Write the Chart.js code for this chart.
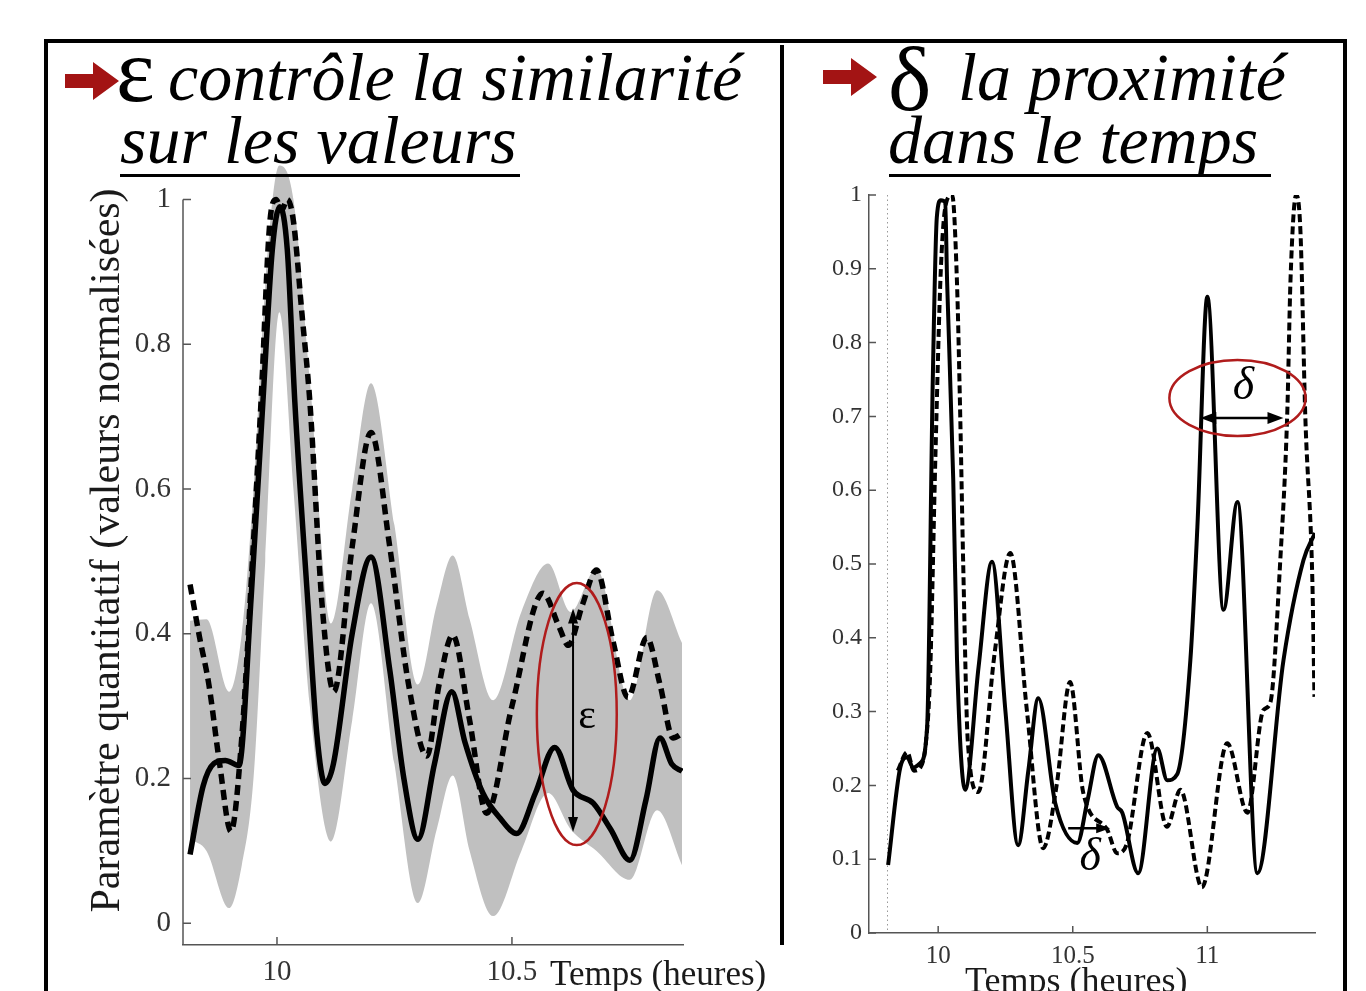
<!DOCTYPE html>
<html lang="fr">
<head>
<meta charset="utf-8">
<title>Similarité et proximité</title>
<script src="https://cdn.jsdelivr.net/npm/chart.js@4.4.1/dist/chart.umd.min.js"></script>
<style>
  html, body { margin: 0; padding: 0; background: #fff; overflow: hidden; }
  body { width: 1366px; height: 991px; position: relative; font-family: 'Liberation Serif', 'Times New Roman', serif; }
  canvas { position: absolute; top: 0; }
  #left { left: 0; }
  #right { left: 790px; }
  .frame { position: absolute; left: 44px; top: 39px; width: 1295px; height: 1000px; border: 4px solid #000; }
  .divider { position: absolute; left: 780px; top: 45px; width: 4px; height: 900px; background: #000; }
  .t { position: absolute; white-space: nowrap; color: #000; }
  .it { font-style: italic; font-size: 68px; line-height: 68px; }
  .greek { font-size: 92px; line-height: 92px; }
  .rule { position: absolute; height: 3px; background: #000; }
  .axis-title { position: absolute; white-space: nowrap; color: #1a1a1a; font-size: 35px; line-height: 35px; }
  svg { position: absolute; }
</style>
</head>
<body>
<div class="frame"></div>
<div class="divider"></div>

<canvas id="left" width="720" height="991"></canvas>
<canvas id="right" width="550" height="991"></canvas>

<!-- headings -->
<svg style="left:62px;top:59px" width="60" height="44"><polygon points="3,15 31,15 31,3 57,22 31,41 31,29 3,29" fill="#a31414"/></svg>
<div class="t greek" style="left:116px;top:24px">ε</div>
<div class="t it" style="left:168px;top:43px">contrôle la similarité</div>
<div class="t it" style="left:120px;top:106px">sur les valeurs</div>
<div class="rule" style="left:120px;top:174px;width:400px"></div>

<svg style="left:820px;top:55px" width="60" height="44"><polygon points="3,15 31,15 31,3 57,22 31,41 31,29 3,29" fill="#a31414"/></svg>
<div class="t greek" style="left:888px;top:33px">δ</div>
<div class="t it" style="left:958px;top:43px">la proximité</div>
<div class="t it" style="left:888px;top:106px">dans le temps</div>
<div class="rule" style="left:889px;top:174px;width:382px"></div>

<div class="axis-title" style="left:550px;top:956px">Temps (heures)</div>
<div class="axis-title" style="left:965px;top:962px;font-size:36px;line-height:36px">Temps (heures)</div>

<script>
// left panel: ε, similarity on values
const leftSolidX = [9.815, 9.843, 9.866, 9.89, 9.919, 9.945, 9.97, 9.99, 10.006, 10.022, 10.038, 10.066, 10.085, 10.102, 10.12, 10.16, 10.2, 10.24, 10.27, 10.3, 10.335, 10.372, 10.4, 10.438, 10.475, 10.51, 10.55, 10.591, 10.63, 10.673, 10.71, 10.751, 10.785, 10.815, 10.84, 10.862];
const leftSolidY = [0.095, 0.19, 0.221, 0.225, 0.218, 0.45, 0.72, 0.93, 0.99, 0.93, 0.72, 0.44, 0.26, 0.193, 0.22, 0.4, 0.506, 0.35, 0.2, 0.116, 0.22, 0.32, 0.25, 0.18, 0.145, 0.124, 0.18, 0.243, 0.184, 0.166, 0.13, 0.087, 0.17, 0.256, 0.22, 0.21];

const leftDashX = [9.815, 9.835, 9.855, 9.878, 9.902, 9.925, 9.945, 9.966, 9.985, 9.998, 10.01, 10.022, 10.035, 10.053, 10.07, 10.096, 10.121, 10.16, 10.2, 10.24, 10.28, 10.319, 10.345, 10.374, 10.41, 10.446, 10.5, 10.566, 10.6, 10.62, 10.65, 10.68, 10.715, 10.747, 10.787, 10.815, 10.843, 10.862];
const leftDashY = [0.468, 0.396, 0.33, 0.22, 0.127, 0.256, 0.47, 0.72, 0.97, 1.0, 0.985, 1.0, 0.97, 0.843, 0.72, 0.44, 0.32, 0.52, 0.678, 0.52, 0.33, 0.231, 0.33, 0.398, 0.28, 0.152, 0.3, 0.456, 0.41, 0.384, 0.44, 0.488, 0.39, 0.312, 0.395, 0.33, 0.256, 0.262];

const bandX     = [9.815, 9.85, 9.898, 9.925, 9.95, 9.975, 10.005, 10.035, 10.07, 10.115, 10.16, 10.2, 10.25, 10.3, 10.34, 10.374, 10.41, 10.46, 10.52, 10.577, 10.625, 10.68, 10.751, 10.809, 10.862];
const bandUpper = [0.418, 0.42, 0.32, 0.4, 0.6, 0.88, 1.047, 1.0, 0.75, 0.414, 0.6, 0.746, 0.55, 0.33, 0.44, 0.508, 0.42, 0.308, 0.43, 0.497, 0.43, 0.49, 0.308, 0.46, 0.387];
const bandLower = [0.116, 0.10, 0.021, 0.08, 0.2, 0.5, 0.844, 0.6, 0.3, 0.113, 0.28, 0.442, 0.22, 0.028, 0.13, 0.204, 0.1, 0.01, 0.1, 0.18, 0.13, 0.1, 0.06, 0.156, 0.08];

const leftXTicks = [10, 10.5];
const leftYTicks = [0, 0.2, 0.4, 0.6, 0.8, 1];

// right panel: δ, proximity in time
const rightSolidX = [9.814, 9.859, 9.885, 9.907, 9.933, 9.959, 9.98, 9.995, 10.01, 10.026, 10.033, 10.056, 10.07, 10.1, 10.15, 10.2, 10.25, 10.297, 10.335, 10.372, 10.435, 10.517, 10.555, 10.595, 10.665, 10.684, 10.743, 10.814, 10.851, 10.888, 10.937, 10.963, 11.0, 11.06, 11.112, 11.186, 11.283, 11.357, 11.4];
const rightSolidY = [0.092, 0.224, 0.238, 0.224, 0.23, 0.28, 0.75, 0.97, 0.993, 0.99, 0.885, 0.614, 0.37, 0.194, 0.36, 0.503, 0.3, 0.119, 0.22, 0.318, 0.176, 0.122, 0.18, 0.241, 0.171, 0.163, 0.081, 0.25, 0.207, 0.215, 0.37, 0.55, 0.862, 0.438, 0.584, 0.081, 0.37, 0.505, 0.542];

const rightDashX = [9.85, 9.885, 9.91, 9.935, 9.955, 9.97, 9.99, 10.01, 10.03, 10.052, 10.07, 10.082, 10.093, 10.11, 10.149, 10.21, 10.268, 10.33, 10.39, 10.44, 10.49, 10.539, 10.628, 10.665, 10.7, 10.777, 10.85, 10.9, 10.98, 11.074, 11.149, 11.208, 11.234, 11.271, 11.297, 11.309, 11.33, 11.346, 11.364, 11.39, 11.398];
const rightDashY = [0.22, 0.245, 0.22, 0.225, 0.26, 0.35, 0.65, 0.9, 0.99, 1.0, 0.88, 0.7, 0.5, 0.26, 0.191, 0.38, 0.515, 0.3, 0.115, 0.2, 0.34, 0.19, 0.14, 0.108, 0.12, 0.271, 0.144, 0.194, 0.062, 0.257, 0.163, 0.302, 0.312, 0.505, 0.705, 0.885, 1.0, 0.95, 0.7, 0.48, 0.32];

const rightXTicks = [10, 10.5, 11];
const rightYTicks = [0, 0.1, 0.2, 0.3, 0.4, 0.5, 0.6, 0.7, 0.8, 0.9, 1];

const serif = 'Liberation Serif';
const pts = (xs, ys) => xs.map((x, i) => ({ x: x, y: ys[i] }));

// MATLAB style ticks pointing into the plot, plus an optional y axis line that stops at a given value
const inwardTicks = {
  id: 'inwardTicks',
  afterDatasetsDraw(chart, args, opts) {
    const { ctx, chartArea, scales: { x, y } } = chart;
    ctx.save();
    ctx.strokeStyle = '#555';
    ctx.lineWidth = 1.5;
    ctx.beginPath();
    x.ticks.forEach(t => {
      const px = x.getPixelForValue(t.value);
      ctx.moveTo(px, chartArea.bottom);
      ctx.lineTo(px, chartArea.bottom - opts.len);
    });
    y.ticks.forEach(t => {
      const py = y.getPixelForValue(t.value);
      ctx.moveTo(chartArea.left, py);
      ctx.lineTo(chartArea.left + opts.len, py);
    });
    if (opts.axisTop !== undefined) {
      ctx.moveTo(chartArea.left, y.getPixelForValue(opts.axisTop));
      ctx.lineTo(chartArea.left, chartArea.bottom);
    }
    ctx.stroke();
    ctx.restore();
  }
};

function arrowHead(ctx, x, y, dx, dy, len, half) {
  ctx.beginPath();
  ctx.moveTo(x, y);
  ctx.lineTo(x - dx * len - dy * half, y - dy * len + dx * half);
  ctx.lineTo(x - dx * len + dy * half, y - dy * len - dx * half);
  ctx.closePath();
  ctx.fill();
}

function oval(ctx, x, y, o) {
  const cx = x.getPixelForValue(o.x), cy = y.getPixelForValue(o.y);
  const rx = x.getPixelForValue(o.x + o.rx) - cx;
  const ry = cy - y.getPixelForValue(o.y + o.ry);
  ctx.save();
  ctx.strokeStyle = '#b01c1c';
  ctx.lineWidth = 2.5;
  ctx.beginPath();
  ctx.ellipse(cx, cy, rx, ry, 0, 0, Math.PI * 2);
  ctx.stroke();
  ctx.restore();
}

const epsOval = { x: 10.638, y: 0.289, rx: 0.085, ry: 0.181 };
const epsArrow = { x: 10.63, top: 0.435, bottom: 0.126 };
const epsLabel = { x: 10.66, y: 0.285 };

const epsNotes = {
  id: 'epsNotes',
  afterDatasetsDraw(chart) {
    const { ctx, scales: { x, y } } = chart;
    oval(ctx, x, y, epsOval);
    const px = x.getPixelForValue(epsArrow.x);
    const top = y.getPixelForValue(epsArrow.top), bot = y.getPixelForValue(epsArrow.bottom);
    ctx.save();
    ctx.strokeStyle = '#000';
    ctx.fillStyle = '#000';
    ctx.lineWidth = 2;
    ctx.beginPath();
    ctx.moveTo(px, top + 6);
    ctx.lineTo(px, bot - 6);
    ctx.stroke();
    arrowHead(ctx, px, top, 0, -1, 15, 5);
    arrowHead(ctx, px, bot, 0, 1, 15, 5);
    ctx.font = '42px ' + serif;
    ctx.textAlign = 'center';
    ctx.textBaseline = 'middle';
    ctx.fillText('ε', x.getPixelForValue(epsLabel.x), y.getPixelForValue(epsLabel.y));
    ctx.restore();
  }
};

const deltaOval = { x: 11.112, y: 0.725, rx: 0.253, ry: 0.0515 };
const deltaArrow = { y: 0.698, from: 10.974, to: 11.283 };
const deltaLabel = { x: 11.134, y: 0.74 };
const smallArrow = { y: 0.142, from: 10.483, to: 10.639 };
const smallLabel = { x: 10.565, y: 0.102 };

const deltaNotes = {
  id: 'deltaNotes',
  afterDatasetsDraw(chart) {
    const { ctx, scales: { x, y } } = chart;
    oval(ctx, x, y, deltaOval);
    ctx.save();
    ctx.strokeStyle = '#000';
    ctx.fillStyle = '#000';
    ctx.lineWidth = 2.5;
    let py = y.getPixelForValue(deltaArrow.y);
    let a = x.getPixelForValue(deltaArrow.from), b = x.getPixelForValue(deltaArrow.to);
    ctx.beginPath();
    ctx.moveTo(a + 8, py);
    ctx.lineTo(b - 8, py);
    ctx.stroke();
    arrowHead(ctx, a, py, -1, 0, 16, 6);
    arrowHead(ctx, b, py, 1, 0, 16, 6);

    py = y.getPixelForValue(smallArrow.y);
    a = x.getPixelForValue(smallArrow.from);
    b = x.getPixelForValue(smallArrow.to);
    ctx.beginPath();
    ctx.moveTo(a, py);
    ctx.lineTo(b - 8, py);
    ctx.stroke();
    arrowHead(ctx, b, py, 1, 0, 14, 5);

    ctx.font = 'italic 46px ' + serif;
    ctx.textAlign = 'center';
    ctx.textBaseline = 'middle';
    ctx.fillText('δ', x.getPixelForValue(deltaLabel.x), y.getPixelForValue(deltaLabel.y));
    ctx.fillText('δ', x.getPixelForValue(smallLabel.x), y.getPixelForValue(smallLabel.y));
    ctx.restore();
  }
};

// faint dotted marker at the start of the series
const startLine = {
  id: 'startLine',
  beforeDatasetsDraw(chart, args, opts) {
    const { ctx, scales: { x, y } } = chart;
    const px = Math.round(x.getPixelForValue(opts.at)) + 0.5;
    ctx.save();
    ctx.strokeStyle = '#999';
    ctx.lineWidth = 1;
    ctx.setLineDash([1.5, 3]);
    ctx.beginPath();
    ctx.moveTo(px, y.getPixelForValue(1));
    ctx.lineTo(px, y.getPixelForValue(0));
    ctx.stroke();
    ctx.restore();
  }
};

const tickFont = size => ({ family: serif, size: size });
const numLabel = v => String(v);

new Chart(document.getElementById('left'), {
  type: 'line',
  data: {
    datasets: [
      { data: pts(leftDashX, leftDashY), borderColor: '#000', borderWidth: 5.5, borderDash: [10, 6] },
      { data: pts(leftSolidX, leftSolidY), borderColor: '#000', borderWidth: 5.5 },
      { data: pts(bandX, bandUpper), borderWidth: 0, backgroundColor: '#c0c0c0', fill: '+1', clip: false },
      { data: pts(bandX, bandLower), borderWidth: 0, fill: false }
    ]
  },
  options: {
    responsive: false,
    animation: false,
    layout: { padding: { left: 80, right: 37, top: 156, bottom: 0 } },
    elements: { point: { radius: 0 }, line: { cubicInterpolationMode: 'monotone', borderJoinStyle: 'round' } },
    plugins: {
      legend: { display: false },
      tooltip: { enabled: false },
      inwardTicks: { len: 8, axisTop: 1 }
    },
    scales: {
      x: {
        type: 'linear', min: 9.8, max: 10.864,
        afterFit: s => { s.height = 46; },
        afterBuildTicks: s => { s.ticks = leftXTicks.map(v => ({ value: v })); },
        grid: { display: false, drawTicks: false },
        border: { color: '#555', width: 1.5 },
        ticks: { padding: 10, color: '#333', font: tickFont(29), callback: numLabel, maxRotation: 0 }
      },
      y: {
        type: 'linear', min: -0.03, max: 1.06,
        afterFit: s => { s.width = 103; },
        afterBuildTicks: s => { s.ticks = leftYTicks.map(v => ({ value: v })); },
        grid: { display: false, drawTicks: false },
        border: { display: false },
        ticks: { padding: 12, color: '#333', font: tickFont(29), callback: numLabel },
        title: {
          display: true, text: 'Paramètre quantitatif (valeurs normalisées)',
          color: '#1a1a1a', font: { family: serif, size: 42 }, padding: { top: 3, bottom: 0 }
        }
      }
    }
  },
  plugins: [inwardTicks, epsNotes]
});

new Chart(document.getElementById('right'), {
  type: 'line',
  data: {
    datasets: [
      { data: pts(rightDashX, rightDashY), borderColor: '#000', borderWidth: 4, borderDash: [8, 4] },
      { data: pts(rightSolidX, rightSolidY), borderColor: '#000', borderWidth: 4 }
    ]
  },
  options: {
    responsive: false,
    animation: false,
    layout: { padding: { left: 0, right: 25, top: 195, bottom: 0 } },
    elements: { point: { radius: 0 }, line: { cubicInterpolationMode: 'monotone', borderJoinStyle: 'round' } },
    plugins: {
      legend: { display: false },
      tooltip: { enabled: false },
      inwardTicks: { len: 7 },
      startLine: { at: 9.81 }
    },
    scales: {
      x: {
        type: 'linear', min: 9.743, max: 11.4,
        afterFit: s => { s.height = 58; },
        afterBuildTicks: s => { s.ticks = rightXTicks.map(v => ({ value: v })); },
        grid: { display: false, drawTicks: false },
        border: { color: '#555', width: 1.5 },
        ticks: { padding: 8, color: '#333', font: tickFont(25), callback: numLabel, maxRotation: 0 }
      },
      y: {
        type: 'linear', min: 0, max: 1,
        afterFit: s => { s.width = 79; },
        afterBuildTicks: s => { s.ticks = rightYTicks.map(v => ({ value: v })); },
        grid: { display: false, drawTicks: false },
        border: { color: '#555', width: 1.5 },
        ticks: { padding: 7, color: '#333', font: tickFont(24), callback: numLabel }
      }
    }
  },
  plugins: [inwardTicks, deltaNotes, startLine]
});
</script>
</body>
</html>
